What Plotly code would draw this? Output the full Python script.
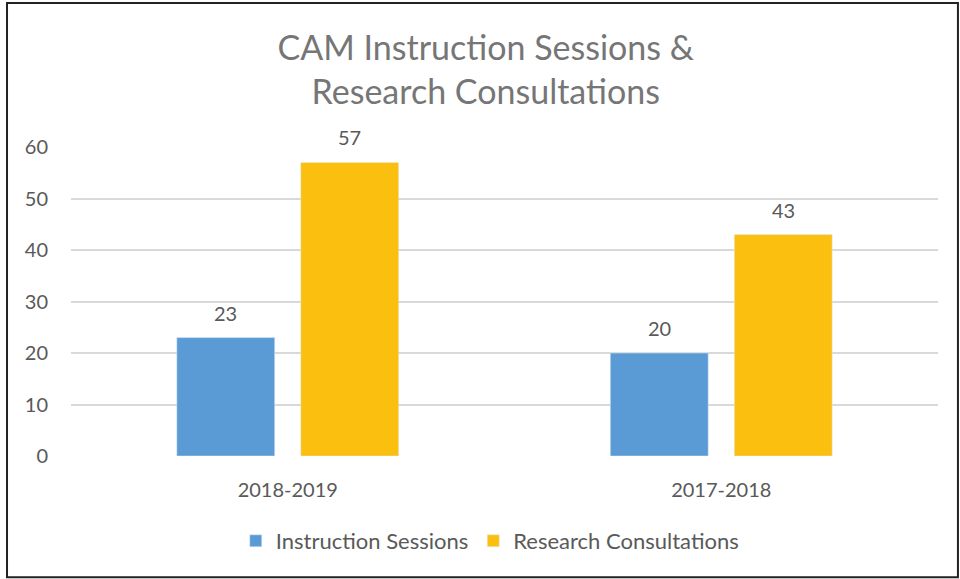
import plotly.graph_objects as go

years = ["2018-2019", "2017-2018"]
instruction = [23, 20]
research = [57, 43]
y_ticks = [0, 10, 20, 30, 40, 50, 60]

gray = "#595959"
title_gray = "#767676"
font_family = "Lato, 'Open Sans', sans-serif"

fig = go.Figure()

fig.add_trace(go.Bar(
    x=years, y=instruction, name="Instruction Sessions",
    marker_color="#5B9BD5",
))
fig.add_trace(go.Bar(
    x=years, y=research, name="Research Consultations",
    marker_color="#FBBF0F",
))

# value labels sit a bit higher above the bars than plotly's "outside" text
for vals, dx in [(instruction, -62), (research, 62)]:
    for cat, v in zip(years, vals):
        fig.add_annotation(x=cat, y=v, text=str(v), showarrow=False,
                           xshift=dx, yshift=25, yanchor="middle",
                           font=dict(size=20, color=gray))

# outer chart border, placed in paper coords
fig.add_shape(type="rect", xref="paper", yref="paper",
              x0=-0.0738, x1=1.0230, y0=-0.392, y1=1.466,
              line=dict(color="#222222", width=2))

fig.update_layout(
    width=960, height=579,
    margin=dict(l=71, r=22, t=147, b=123),
    paper_bgcolor="white", plot_bgcolor="white",
    font=dict(family=font_family, color=gray, size=20),
    title=dict(
        text="CAM Instruction Sessions &<br>Research Consultations",
        x=0.506, xanchor="center", xref="container",
        y=0.896, yanchor="middle", yref="container",
        font=dict(size=34, color=title_gray, family=font_family),
    ),
    barmode="group",
    bargap=0.428,
    bargroupgap=0.21,
    xaxis=dict(showline=False, ticks="", tickfont=dict(size=20, color=gray),
               ticklabelstandoff=20),
    yaxis=dict(range=[0, 60], tickvals=y_ticks, showgrid=True,
               gridcolor="#D9D9D9", gridwidth=1.5, zeroline=False,
               tickfont=dict(size=20, color=gray), ticklabelstandoff=22),
    legend=dict(orientation="h", x=0.483, xanchor="center",
                y=-0.275, yanchor="middle",
                font=dict(size=22, color=gray)),
    showlegend=True,
)

fig.write_html("out.html", config={"displayModeBar": False},
               post_script="document.body.style.margin='0';")
